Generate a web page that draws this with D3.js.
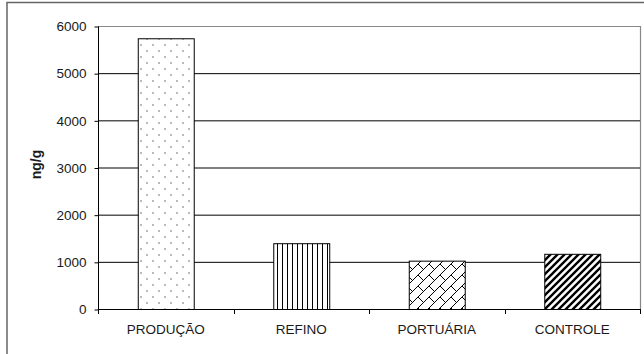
<!DOCTYPE html>
<html>
<head>
<meta charset="utf-8">
<script src="https://cdn.jsdelivr.net/npm/d3@7"></script>
<style>
  body { margin: 0; background: #fff; }
  svg { display: block; font-family: "Liberation Sans", Arial, sans-serif; }
</style>
</head>
<body>
<div id="chart"></div>
<script>
// data
const categories = ["PRODUÇÃO", "REFINO", "PORTUÁRIA", "CONTROLE"];
const values = [5740, 1395, 1025, 1170];
const patterns = ["dots", "vlines", "brick", "diag"];
const yTicks = [0, 1000, 2000, 3000, 4000, 5000, 6000];
const yLabel = "ng/g";

const width = 644, height = 354,
    margin = ({ top: 26, right: 4, bottom: 45, left: 98 });

let svg = d3.select("#chart")
    .append("svg")
    .attr("width", width)
    .attr("height", height);

// patterns for bar fills
const defs = svg.append("defs");

let p = defs.append("pattern").attr("id", "dots")
    .attr("patternUnits", "userSpaceOnUse").attr("width", 12).attr("height", 12);
p.append("rect").attr("width", 12).attr("height", 12).attr("fill", "#fff");
p.append("circle").attr("cx", 3).attr("cy", 3).attr("r", 0.75).attr("fill", "#555");
p.append("circle").attr("cx", 9).attr("cy", 9).attr("r", 0.75).attr("fill", "#555");

p = defs.append("pattern").attr("id", "vlines")
    .attr("patternUnits", "userSpaceOnUse").attr("width", 5).attr("height", 5);
p.append("rect").attr("width", 5).attr("height", 5).attr("fill", "#fff");
p.append("line").attr("x1", 2.5).attr("x2", 2.5).attr("y1", 0).attr("y2", 5)
    .attr("stroke", "#000").attr("stroke-width", 1);

p = defs.append("pattern").attr("id", "brick")
    .attr("patternUnits", "userSpaceOnUse").attr("width", 11).attr("height", 11);
p.append("rect").attr("width", 11).attr("height", 11).attr("fill", "#fff");
p.append("path").attr("d", "M-1,12 L12,-1 M0,0 L5.5,5.5 M-1,1 L1,-1 M10,12 L12,10")
    .attr("stroke", "#000").attr("stroke-width", 1).attr("fill", "none");

p = defs.append("pattern").attr("id", "diag")
    .attr("patternUnits", "userSpaceOnUse").attr("width", 7).attr("height", 7);
p.append("rect").attr("width", 7).attr("height", 7).attr("fill", "#fff");
p.append("path").attr("d", "M-1,8 L8,-1 M-1,1 L1,-1 M6,8 L8,6")
    .attr("stroke", "#000").attr("stroke-width", 2.4).attr("fill", "none");

// outer frame (cut off at right and bottom)
svg.append("rect")
    .attr("x", 7).attr("y", 2.5)
    .attr("width", 700).attr("height", 400)
    .attr("fill", "none").attr("stroke", "#666").attr("stroke-width", 1.5);

const x = d3.scaleBand()
    .domain(categories)
    .range([margin.left, width - margin.right])
    .paddingInner(0.587)
    .paddingOuter(0.2935);

const y = d3.scaleLinear()
    .domain([0, 6000])
    .range([height - margin.bottom, margin.top]);

// plot area border (gray top & right)
svg.append("path")
    .attr("d", `M${margin.left},${y(6000) + 0.5} H${width - margin.right + 0.5} V${y(0)}`)
    .attr("fill", "none").attr("stroke", "#888").attr("stroke-width", 1.2);

// gridlines
svg.append("g")
    .selectAll("line")
    .data(yTicks.filter(d => d > 0 && d < 6000))
    .join("line")
    .attr("x1", margin.left).attr("x2", width - margin.right)
    .attr("y1", d => y(d) + 0.5).attr("y2", d => y(d) + 0.5)
    .attr("stroke", "#000").attr("stroke-width", 1);

// y axis
const yAxis = (g) => g
    .attr("transform", `translate(${margin.left + 0.5}, 0.5)`)
    .call(d3.axisLeft(y).tickValues(yTicks).tickFormat(d3.format("d"))
        .tickSize(4).tickPadding(8))
    .call(g => g.select(".domain").attr("d", `M0,${y(6000)} V${y(0)}`))
    .attr("font-size", 13.5)
    .attr("font-family", "Liberation Sans, Arial, sans-serif");

svg.append("g").call(yAxis)
    .selectAll("text").attr("fill", "#1a1a1a");

// x axis with ticks at band boundaries
const step = x.step();
const bounds = d3.range(categories.length + 1).map(i => margin.left + i * step);
let xa = svg.append("g");
xa.append("line")
    .attr("x1", margin.left).attr("x2", width - margin.right + 1)
    .attr("y1", y(0) + 0.5).attr("y2", y(0) + 0.5)
    .attr("stroke", "#000");
xa.selectAll(".tick")
    .data(bounds)
    .join("line")
    .attr("x1", d => Math.round(d) + 0.5).attr("x2", d => Math.round(d) + 0.5)
    .attr("y1", y(0)).attr("y2", y(0) + 5)
    .attr("stroke", "#000");
xa.selectAll("text")
    .data(categories)
    .join("text")
    .text(d => d)
    .attr("x", d => x(d) + x.bandwidth() / 2)
    .attr("y", y(0) + 25)
    .attr("text-anchor", "middle")
    .attr("font-size", 13.5)
    .attr("fill", "#1a1a1a");

// bars
svg.append("g")
    .selectAll("rect")
    .data(categories)
    .join("rect")
    .attr("x", d => x(d) + 0.5)
    .attr("width", x.bandwidth())
    .attr("y", (d, i) => y(values[i]) + 0.5)
    .attr("height", (d, i) => y(0) - y(values[i]))
    .attr("fill", (d, i) => `url(#${patterns[i]})`)
    .attr("stroke", "#000")
    .attr("stroke-width", 1);

// y label
svg.append("text")
    .text(yLabel)
    .attr("transform", `translate(41, ${(y(0) + y(6000)) / 2 - 3}) rotate(-90)`)
    .attr("text-anchor", "middle")
    .attr("font-size", 14)
    .attr("font-weight", "bold")
    .attr("fill", "#1a1a1a");
</script>
</body>
</html>
